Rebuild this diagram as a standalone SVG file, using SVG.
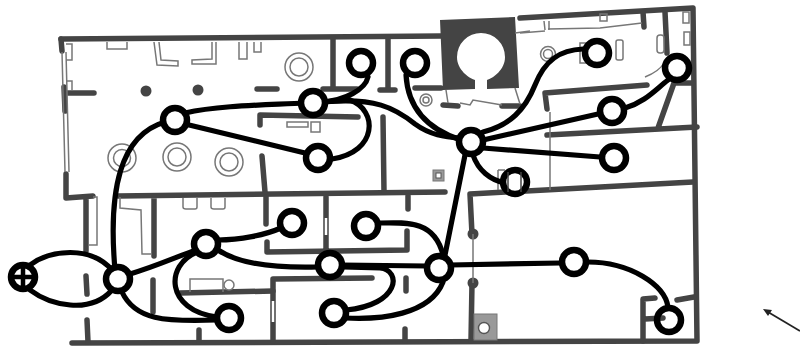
<svg xmlns="http://www.w3.org/2000/svg" width="800" height="348" viewBox="0 0 800 348">
<style>
.w{fill:none;stroke:#444;stroke-width:5.5;stroke-linecap:round;stroke-linejoin:round}
.t{fill:none;stroke:#777;stroke-width:1.5}
.o{fill:#fff;stroke:#777;stroke-width:1.5}
.c{fill:none;stroke:#000;stroke-width:5.2;stroke-linecap:round}
.n{fill:#fff;stroke:#000;stroke-width:6.5}
.h{fill:none;stroke:#000;stroke-width:6.5}
</style>
<rect width="800" height="348" fill="#fff"/>
<g id="plan">
<path class="w" d="M61,39 L441,36 M520,18 L693,8 L697,341 L72,343"/>
<path class="w" d="M61,39 L62,51 M64,87 L65,111 M65,93 L94,93"/>
<path class="w" d="M66,174 L66,198 L93,196 M86,197 L86,251 M86,276 L87,294 M87,320 L88,342"/>
<path class="w" d="M118,196 L445,192 M154,197 L154,256 M153,280 L153,312 M180,293 L273,291 M199,330 L199,342"/>
<path class="w" d="M266,197 L266,224 M267,242 L267,252 L407,250 L407,231 M326,197 L326,249 M408,196 L408,209 M273,341 L273,279 L372,278 M406,278 L406,291 M405,329 L405,341"/>
<path class="w" d="M472,234 L470,194 L693,182 M472,283 L471,341"/>
<path class="w" d="M333,38 L333,87 M388,38 L388,88 M323,89 L357,89 M380,90 L395,90 M415,88 L441,88 M257,89 L277,89 M443,105 L458,106 M502,106 L520,106"/>
<path class="w" d="M260,125 L260,115 L358,117 M383,117 L384,192 M262,156 L265,192"/>
<path class="w" d="M647,85 L545,93 L547,109 M665,12 L667,53 M677,83 L693,83 M674,83 L658,128 M547,135 L697,127 M643,12 L644,27"/>
<path class="w" d="M655,298 L643,299 L643,341 M677,300 L694,297 M645,319 L663,318"/>
<path d="M440,20 L515,17 L519,88 L487,89 L487,80 C493,78 505,70 505,57 A24,24 0 0 0 457,57 C457,70 469,78 475,80 L475,89 L443,90 Z" fill="#444"/>
<circle cx="146" cy="91" r="5.5" fill="#444"/><circle cx="198" cy="90" r="5.5" fill="#444"/>
<circle cx="473" cy="234" r="5.5" fill="#444"/><circle cx="473" cy="283" r="5.5" fill="#444"/>
<path class="t" d="M62,52 L65,172 M66,52 L69,172 M66,44 L72,44 L72,60 L66,60 M67,81 L72,81 L72,90"/>
<path class="t" d="M107,42 L107,49 L127,49 L127,42 M154,42 L157,65 L178,66 L178,61 L161,60 L159,42 M212,42 L212,59 L192,60 L192,64 L216,64 L216,42 M239,42 L239,59 L247,59 L247,42 M254,42 L254,52 L261,52 L261,42"/>
<path class="t" d="M93,197 L97,197 L97,245 L88,245 M120,197 L120,208 L141,210 L142,254 L152,254 M183,198 L183,207 Q183,209 186,209 L195,209 Q197,209 197,207 L197,198 M211,198 L211,207 Q211,209 214,209 L223,209 Q225,209 225,207 L225,198"/>
<path class="t" d="M190,292 L190,279 L223,279 L223,292"/>
<circle class="o" cx="229" cy="285" r="5"/>
<circle class="t" cx="122" cy="158" r="14"/><circle class="t" cx="122" cy="158" r="8.5"/>
<circle class="t" cx="177" cy="157" r="14"/><circle class="t" cx="177" cy="157" r="9"/>
<circle class="t" cx="229" cy="162" r="14"/><circle class="t" cx="229" cy="162" r="9"/>
<circle class="t" cx="299" cy="67" r="14"/><circle class="t" cx="299" cy="67" r="9"/>
<rect class="t" x="287" y="122" width="21" height="5"/><rect class="t" x="311" y="122" width="9" height="10"/>
<circle class="t" cx="426" cy="100" r="6" stroke-width="2"/><circle class="t" cx="426" cy="100" r="3"/>
<path class="t" d="M446,90 L448,103 M460,103 L470,105 L473,100 L502,105 M515,88 L520,104 M515,33 L530,31"/>
<rect x="433" y="170" width="11" height="11" fill="#999" stroke="#777"/><rect x="436" y="173" width="5" height="5" fill="#fff" stroke="#555"/>
<path class="t" d="M498,170 L505,170 M498,170 L498,190"/>
<path class="t" d="M473,234 L473,283 M550,112 L550,190"/>
<path class="t" d="M520,33 L545,31 M544,21 L545,30 M549,21 L549,30 M548,29 L600,28 L642,23"/>
<path class="t" d="M645,77 C650,75 660,70 664,63"/>
<rect class="t" x="580" y="43" width="6" height="20"/><rect class="t" x="616" y="40" width="7" height="20" rx="2"/>
<circle class="t" cx="548" cy="54" r="7.5"/><circle class="t" cx="548" cy="54" r="4.5"/>
<rect class="t" x="657" y="35" width="7" height="18" rx="3"/>
<rect class="t" x="683" y="12" width="6" height="11"/><rect class="t" x="684" y="32" width="6" height="13"/>
<rect class="t" x="600" y="14" width="7" height="7"/>
<rect x="474" y="314" width="23" height="26" fill="#999" stroke="#777"/><circle cx="484" cy="328" r="5.5" fill="#fff" stroke="#555" stroke-width="1.4"/>
<path d="M326,218 V235" stroke="#fff" stroke-width="2.5"/><path d="M273,301 V322" stroke="#fff" stroke-width="2.5"/>
</g>
<g id="connectors">
<path class="c" d="M30,265 C50,250 90,245 112,270"/>
<path class="c" d="M30,290 C50,305 90,315 112,290"/>
<path class="c" d="M115,270 C108,190 120,135 165,122"/>
<path class="c" d="M185,113 C220,105 270,105 305,103"/>
<path class="c" d="M185,124 L305,153"/>
<path class="c" d="M323,102 C345,100 365,90 368,77"/>
<path class="c" d="M323,102 L350,100 C378,110 378,152 332,159"/>
<path class="c" d="M323,102 C375,97 395,108 415,124 C430,135 445,137 460,138"/>
<path class="c" d="M406,75 C408,110 430,130 461,140"/>
<path class="c" d="M483,132 C510,125 525,110 535,85 C545,60 560,50 583,49"/>
<path class="c" d="M483,140 L598,114"/>
<path class="c" d="M483,148 L600,157"/>
<path class="c" d="M473,155 C478,170 490,180 505,183"/>
<path class="c" d="M625,108 C645,102 655,90 668,80"/>
<path class="c" d="M465,155 L445,255"/>
<path class="c" d="M380,223 C410,222 435,222 443,255"/>
<path class="c" d="M450,265 L560,263"/>
<path class="c" d="M588,262 C630,262 665,285 668,307"/>
<path class="c" d="M443,282 C430,315 380,320 345,318"/>
<path class="c" d="M343,267 L380,268 C402,270 400,305 346,310"/>
<path class="c" d="M342,265 L427,266"/>
<path class="c" d="M218,240 C240,240 265,235 281,228"/>
<path class="c" d="M218,250 C240,265 280,268 318,267"/>
<path class="c" d="M130,274 C160,265 180,255 197,250"/>
<path class="c" d="M122,292 C135,320 165,322 217,320"/>
<path class="c" d="M197,252 C165,265 165,310 217,317"/>
</g>
<g id="entrance">
<circle class="n" cx="23" cy="277" r="12"/>
<path d="M23,265 V289 M11,277 H35" stroke="#000" stroke-width="4.5" fill="none"/>
</g>
<g id="n1"><circle class="n" cx="118" cy="279" r="12"/></g>
<g id="n2"><circle class="n" cx="206" cy="244" r="12"/></g>
<g id="n3"><circle class="n" cx="229" cy="318" r="12"/></g>
<g id="n4"><circle class="n" cx="292" cy="223" r="12"/></g>
<g id="n5"><circle class="n" cx="366" cy="226" r="12"/></g>
<g id="n6"><circle class="n" cx="330" cy="265" r="12"/></g>
<g id="n7"><circle class="n" cx="439" cy="268" r="12"/></g>
<g id="n8"><circle class="n" cx="334" cy="313" r="12"/></g>
<g id="n9"><circle class="n" cx="574" cy="262" r="12"/></g>
<g id="n10"><circle class="h" cx="669" cy="320" r="12"/></g>
<g id="n11"><circle class="n" cx="175" cy="120" r="12"/></g>
<g id="n12"><circle class="n" cx="313" cy="103" r="12"/></g>
<g id="n13"><circle class="n" cx="318" cy="158" r="12"/></g>
<g id="n14"><circle class="n" cx="361" cy="63" r="12"/></g>
<g id="n15"><circle class="n" cx="415" cy="63" r="12"/></g>
<g id="n16"><circle class="n" cx="471" cy="142" r="12"/></g>
<g id="n17"><circle class="n" cx="515" cy="182" r="12"/><path d="M508,172 V192 M521,172 V192" stroke="#444" stroke-width="1.5" fill="none"/></g>
<g id="n18"><circle class="n" cx="597" cy="53" r="12"/></g>
<g id="n19"><circle class="n" cx="612" cy="111" r="12"/></g>
<g id="n20"><circle class="n" cx="614" cy="158" r="12"/></g>
<g id="n21"><circle class="n" cx="677" cy="68" r="12"/></g>
<g id="north">
<path d="M800,331 L768,312" stroke="#222" stroke-width="1.8" fill="none"/>
<path d="M763,309 L772,310 L768,316 Z" fill="#222"/>
</g>
</svg>
